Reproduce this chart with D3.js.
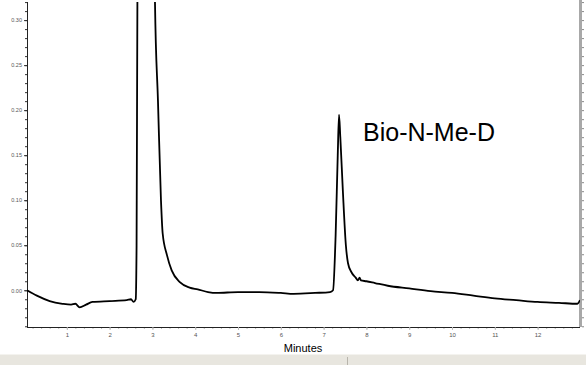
<!DOCTYPE html>
<html>
<head>
<meta charset="utf-8">
<script src="https://cdn.jsdelivr.net/npm/d3@7/dist/d3.min.js"></script>
<style>
  body { margin: 0; background: #fff; }
  svg { display: block; font-family: "Liberation Sans", Arial, sans-serif; }
</style>
</head>
<body>
<div id="chart"></div>
<script>
// chromatogram trace (minutes, AU)
var times = [0.07, 0.3, 0.6, 0.9, 1.1, 1.2, 1.3, 1.45, 1.6, 2.0, 2.4, 2.5, 2.56, 2.61, 2.63, 2.65, 2.68,
  3.03, 3.06, 3.13, 3.2, 3.24, 3.34, 3.45, 3.64, 3.87, 4.06, 4.3, 4.5, 5.0, 5.5, 6.0, 6.3, 6.8, 7.15,
  7.22, 7.28, 7.33, 7.36, 7.39, 7.45, 7.52, 7.57, 7.65, 7.75, 7.8, 7.84, 7.87, 8.0, 8.2, 8.5, 9.0,
  9.5, 10.0, 10.5, 11.0, 11.5, 12.0, 12.5, 12.93, 12.99];
var absorb = [0.0, -0.006, -0.012, -0.015, -0.016, -0.015, -0.019, -0.016, -0.013, -0.012, -0.011, -0.010, -0.013, -0.010, 0.05, 0.33, 0.45,
  0.45, 0.32, 0.21, 0.10, 0.063, 0.039, 0.022, 0.009, 0.003, 0.001, -0.002, -0.003, -0.002, -0.002, -0.003, -0.004, -0.003, -0.002,
  0.0, 0.06, 0.15, 0.195, 0.17, 0.11, 0.05, 0.03, 0.02, 0.014, 0.011, 0.014, 0.011, 0.010, 0.008, 0.005, 0.002,
  -0.001, -0.003, -0.006, -0.009, -0.011, -0.013, -0.014, -0.015, -0.011];
var xTicks = [1, 2, 3, 4, 5, 6, 7, 8, 9, 10, 11, 12];
var yTicks = [0.00, 0.05, 0.10, 0.15, 0.20, 0.25, 0.30];
var peakLabel = "Bio-N-Me-D";
var xTitle = "Minutes";

var width = 586, height = 365;
var plotLeft = 27, plotRight = 580, plotTop = 2, plotBottom = 327;

var svg = d3.select("#chart").append("svg")
    .attr("width", width)
    .attr("height", height);

var xScale = d3.scaleLinear().domain([0.07, 12.99]).range([plotLeft, plotRight]);
var yScale = d3.scaleLinear().domain([-0.0408, 0.3201]).range([plotBottom, plotTop]);

// status bar at the bottom
svg.append("rect")
    .attr("x", 0).attr("y", 354).attr("width", width).attr("height", 11)
    .attr("fill", "#e8e6df");
svg.append("line")
    .attr("x1", 0).attr("x2", width).attr("y1", 354.5).attr("y2", 354.5)
    .attr("stroke", "#f4f3ef");
svg.append("line")
    .attr("x1", 347.5).attr("x2", 347.5).attr("y1", 357).attr("y2", 365)
    .attr("stroke", "#b8b5ac");

// clip for the trace
svg.append("clipPath").attr("id", "plot")
    .append("rect")
    .attr("x", plotLeft).attr("y", plotTop)
    .attr("width", plotRight - plotLeft).attr("height", plotBottom - plotTop);

// right border bar
svg.append("rect")
    .attr("x", plotRight - 1).attr("y", 0).attr("width", 3).attr("height", plotBottom)
    .attr("fill", "#a8a8a8");
var rightAxis = d3.axisRight(yScale)
    .tickValues(d3.range(-0.04, 0.321, 0.01))
    .tickSize(2)
    .tickFormat("");
svg.append("g")
    .attr("transform", `translate(${plotRight + 2},0)`)
    .call(rightAxis)
    .call(function(g) {
        g.select(".domain").remove();
        g.selectAll("line").attr("stroke", "#888");
    });

// y axis: minor then major
var yMinor = d3.axisLeft(yScale)
    .tickValues(d3.range(-0.04, 0.321, 0.01))
    .tickSize(2)
    .tickFormat("");
svg.append("g")
    .attr("transform", `translate(${plotLeft},0)`)
    .call(yMinor)
    .call(function(g) {
        g.select(".domain").remove();
        g.selectAll("line").attr("stroke", "#333");
    });

var yAxis = d3.axisLeft(yScale)
    .tickValues(yTicks)
    .tickSize(3)
    .tickPadding(2)
    .tickFormat(d3.format(".2f"));
svg.append("g")
    .attr("class", "yAxis")
    .attr("transform", `translate(${plotLeft},0)`)
    .call(yAxis)
    .call(function(g) {
        g.select(".domain").attr("stroke", "#222").attr("d", `M0.5,${plotTop}V${plotBottom}`);
        g.selectAll("line").attr("stroke", "#333");
        g.selectAll("text").attr("font-size", 5.5).attr("fill", "#555");
    });

// x axis: minor then major
var xMinor = d3.axisBottom(xScale)
    .tickValues(d3.range(0.2, 12.99, 0.2))
    .tickSize(2)
    .tickFormat("");
svg.append("g")
    .attr("transform", `translate(0,${plotBottom})`)
    .call(xMinor)
    .call(function(g) {
        g.select(".domain").remove();
        g.selectAll("line").attr("stroke", "#bbb");
    });

var xAxis = d3.axisBottom(xScale)
    .tickValues(xTicks)
    .tickSize(3)
    .tickPadding(3)
    .tickFormat(d3.format("d"));
svg.append("g")
    .attr("class", "xAxis")
    .attr("transform", `translate(0,${plotBottom})`)
    .call(xAxis)
    .call(function(g) {
        g.select(".domain").attr("stroke", "#222").attr("d", `M${plotLeft},0.5H${plotRight}`);
        g.selectAll("line").attr("stroke", "#bbb");
        g.selectAll("text").attr("font-size", 6).attr("fill", "#555");
    });

svg.append("text")
    .attr("x", 303)
    .attr("y", 352)
    .attr("text-anchor", "middle")
    .attr("font-size", 11)
    .attr("fill", "#000")
    .text(xTitle);

// trace
var points = times.map(function(t, i) { return [t, absorb[i]]; });
var line = d3.line()
    .x(function(d) { return xScale(d[0]); })
    .y(function(d) { return yScale(d[1]); })
    .curve(d3.curveMonotoneX);

svg.append("path")
    .datum(points)
    .attr("clip-path", "url(#plot)")
    .attr("fill", "none")
    .attr("stroke", "#000")
    .attr("stroke-width", 1.8)
    .attr("stroke-linejoin", "round")
    .attr("d", line);

// peak label
svg.append("text")
    .attr("x", 363)
    .attr("y", 141)
    .attr("font-size", 25)
    .attr("fill", "#000")
    .text(peakLabel);
</script>
</body>
</html>
